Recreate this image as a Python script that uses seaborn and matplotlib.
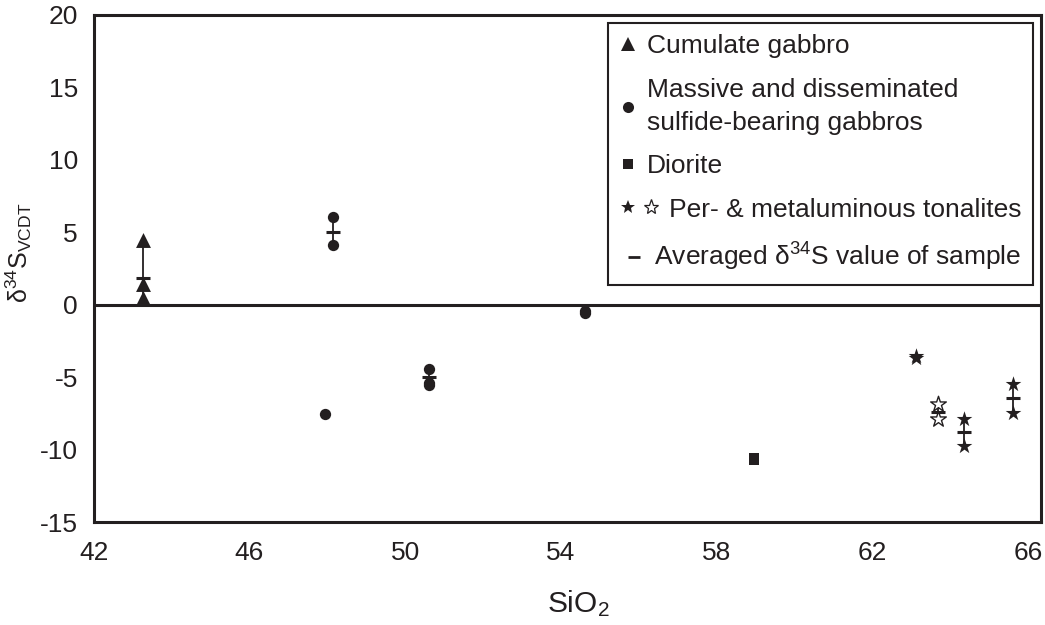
import numpy as np
import pandas as pd
import matplotlib
matplotlib.use("Agg")
import matplotlib.pyplot as plt
import seaborn as sns
from matplotlib.lines import Line2D
from matplotlib.legend_handler import HandlerBase
from matplotlib.ticker import MultipleLocator

# ---------------- data ----------------
cum_gabbro_x = [43.26, 43.26, 43.26]
cum_gabbro_y = [4.48, 1.41, 0.50]

sulfide_x = [47.94, 48.16, 48.16, 50.62, 50.62, 50.62, 54.62, 54.62]
sulfide_y = [-7.52, 6.05, 4.09, -4.40, -5.40, -5.55, -0.40, -0.60]

diorite_x = [58.97, 58.97]
diorite_y = [-10.58, -10.70]

tonalite_filled_x = [63.12, 63.12, 64.35, 64.35, 65.61, 65.61]
tonalite_filled_y = [-3.52, -3.66, -7.88, -9.72, -5.45, -7.43]

tonalite_open_x = [63.69, 63.69]
tonalite_open_y = [-6.83, -7.88]

avg_x = [43.26, 48.16, 50.62, 63.69, 64.35, 65.61]
avg_y = [1.84, 5.03, -5.01, -7.36, -8.76, -6.46]

legend_labels = ["Cumulate gabbro",
                 "Massive and disseminated\nsulfide-bearing gabbros",
                 "Diorite",
                 "   Per- & metaluminous tonalites",
                 r" Averaged δ$\mathregular{^{34}}$S value of sample"]

x_ticks = [42, 46, 50, 54, 58, 62, 66]
y_ticks = [-15, -10, -5, 0, 5, 10, 15, 20]

# ---------------- style ----------------
sns.set_style("white")
plt.rcParams['font.family'] = ['Liberation Sans', 'DejaVu Sans']
plt.rcParams['mathtext.fontset'] = 'custom'
plt.rcParams['mathtext.rm'] = 'Liberation Sans'
plt.rcParams['mathtext.it'] = 'Liberation Sans:italic'
plt.rcParams['mathtext.bf'] = 'Liberation Sans:bold'
plt.rcParams['axes.unicode_minus'] = False
ink = '#231f20'

fig = plt.figure(figsize=(10.45, 6.25), dpi=100)
ax = fig.add_axes([0.0897, 0.1643, 0.9065, 0.8122])

# zero line
ax.axhline(0, color=ink, lw=2.2, zorder=1)

# connectors between replicate analyses of a sample
all_x = np.array(cum_gabbro_x + sulfide_x + diorite_x + tonalite_filled_x + tonalite_open_x)
all_y = np.array(cum_gabbro_y + sulfide_y + diorite_y + tonalite_filled_y + tonalite_open_y)
for xv in avg_x:
    sel = all_y[np.isclose(all_x, xv)]
    ax.vlines(xv, sel.min(), sel.max(), color=ink, lw=1.3, zorder=2)

# points
sns.scatterplot(x=cum_gabbro_x, y=cum_gabbro_y, marker='^', s=115, color=ink,
                linewidth=0, ax=ax, zorder=3, legend=False)
sns.scatterplot(x=sulfide_x, y=sulfide_y, marker='o', s=66, color=ink,
                linewidth=0, ax=ax, zorder=3, legend=False)
sns.scatterplot(x=diorite_x, y=diorite_y, marker='s', s=60, color=ink,
                linewidth=0, ax=ax, zorder=3, legend=False)
sns.scatterplot(x=tonalite_filled_x, y=tonalite_filled_y, marker='*', s=140, color=ink,
                linewidth=0, ax=ax, zorder=3, legend=False)
sns.scatterplot(x=tonalite_open_x, y=tonalite_open_y, marker='*', s=140, color='white',
                edgecolor=ink, linewidth=1.0, ax=ax, zorder=3, legend=False)
sns.scatterplot(x=avg_x, y=avg_y, marker='_', s=95, color=ink,
                linewidth=2.2, ax=ax, zorder=4, legend=False)

# axes
ax.set_xlim(42, 66.34)
ax.set_ylim(-15, 20)
ax.set_xticks(x_ticks)
ax.set_yticks(y_ticks)
ax.xaxis.set_minor_locator(MultipleLocator(2))
ax.yaxis.set_minor_locator(MultipleLocator(1))
ax.tick_params(axis='x', which='major', direction='out', length=7.5, width=1.0,
               color='#444444', labelsize=19, labelcolor=ink, pad=6)
ax.tick_params(axis='x', which='minor', direction='in', length=5, width=1.0,
               color='#444444')
ax.tick_params(axis='y', which='major', direction='out', length=8.5, width=1.0,
               color='#444444', labelsize=19, labelcolor=ink, pad=3)
ax.tick_params(axis='y', which='minor', direction='in', length=5.5, width=1.0,
               color='#444444')
ax.tick_params(top=False, right=False, which='both')
for sp in ax.spines.values():
    sp.set_visible(True)
    sp.set_color(ink)
    sp.set_linewidth(2.2)

ax.set_xlabel(r"SiO$\mathregular{_2}$", fontsize=21.5, color=ink, labelpad=17)
ax.xaxis.label.set_x(0.511)
ax.set_ylabel(r"δ$\mathregular{^{34}}$S$\mathregular{_{VCDT}}$", fontsize=18, color=ink, labelpad=4)
ax.yaxis.label.set_y(0.53)


# ---------------- legend ----------------
class OffsetMarkers(HandlerBase):
    def __init__(self, offsets, **kw):
        super().__init__(**kw)
        self.offsets = offsets

    def create_artists(self, legend, orig_handle, xdescent, ydescent, width, height,
                       fontsize, trans):
        hs = orig_handle if isinstance(orig_handle, tuple) else (orig_handle,)
        arts = []
        for h, dx in zip(hs, self.offsets):
            a = Line2D([dx - xdescent], [height / 2 - ydescent], linestyle='none',
                       marker=h.get_marker(), markersize=h.get_markersize(),
                       markerfacecolor=h.get_markerfacecolor(),
                       markeredgecolor=h.get_markeredgecolor(),
                       markeredgewidth=h.get_markeredgewidth(), transform=trans)
            arts.append(a)
        return arts


h_tri = Line2D([], [], ls='none', marker='^', markersize=10, color=ink, mew=0)
h_circ = Line2D([], [], ls='none', marker='o', markersize=8, color=ink, mew=0)
h_sq = Line2D([], [], ls='none', marker='s', markersize=7.5, color=ink, mew=0)
h_star_f = Line2D([], [], ls='none', marker='*', markersize=10, color=ink, mew=0)
h_star_o = Line2D([], [], ls='none', marker='*', markersize=11, markerfacecolor='white',
                  markeredgecolor=ink, mew=0.9)
h_star = (h_star_f, h_star_o)
h_avg = Line2D([], [], ls='none', marker='_', markersize=9, color=ink, mew=2)

handles = [h_tri, h_circ, h_sq, h_star, h_avg]
hmap = {h_tri: OffsetMarkers([5.4]), h_circ: OffsetMarkers([5.4]),
        h_sq: OffsetMarkers([5.4]), h_star: OffsetMarkers([5.4, 22.0]),
        h_avg: OffsetMarkers([9.7])}
leg = ax.legend(handles, legend_labels, handler_map=hmap, loc='upper right',
                fontsize=19, frameon=True, fancybox=False, framealpha=1,
                edgecolor=ink, borderpad=0.45, handlelength=0.9, handletextpad=0.1,
                labelspacing=0.74, borderaxespad=0.3)
leg.get_frame().set_linewidth(1.5)
for t in leg.get_texts():
    t.set_color(ink)
    t.set_linespacing(1.45)

fig.savefig("out.png", dpi=100)
